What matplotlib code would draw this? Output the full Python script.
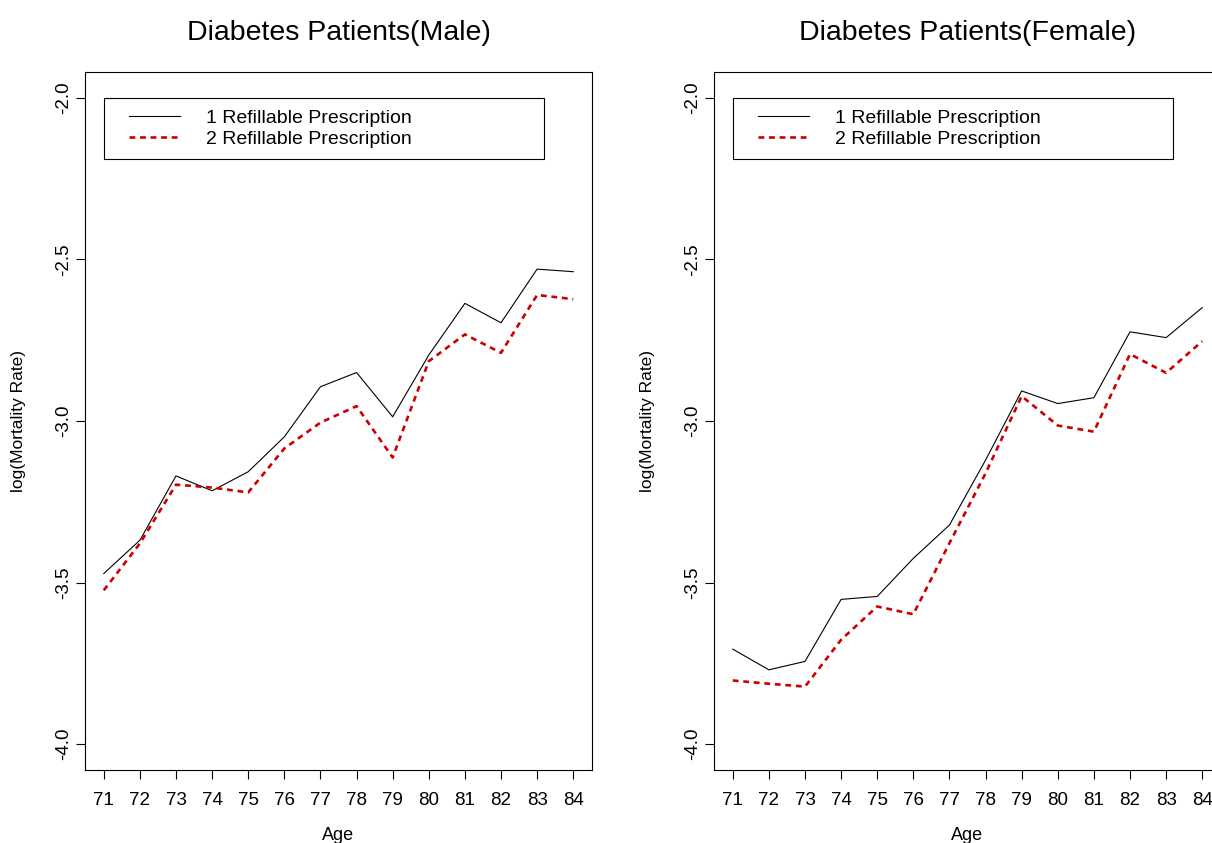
import matplotlib
matplotlib.use("Agg")
import matplotlib.pyplot as plt
from matplotlib.patches import Rectangle

plt.rcParams["font.family"] = ["Liberation Sans", "DejaVu Sans"]
plt.rcParams["axes.unicode_minus"] = False

# ages on the x axis
ages = [71, 72, 73, 74, 75, 76, 77, 78, 79, 80, 81, 82, 83, 84]

# log mortality rate, male patients
male_one = [-3.472, -3.369, -3.170, -3.216, -3.157, -3.049, -2.894,
            -2.850, -2.987, -2.796, -2.636, -2.696, -2.530, -2.538]
male_two = [-3.524, -3.379, -3.197, -3.206, -3.221, -3.085, -3.005,
            -2.954, -3.113, -2.815, -2.732, -2.789, -2.610, -2.623]

# log mortality rate, female patients
female_one = [-3.706, -3.770, -3.744, -3.552, -3.543, -3.425, -3.322,
              -3.121, -2.907, -2.946, -2.928, -2.724, -2.742, -2.649]
female_two = [-3.803, -3.813, -3.822, -3.677, -3.574, -3.598, -3.378,
              -3.162, -2.923, -3.014, -3.033, -2.793, -2.851, -2.753]

y_ticks = [-4.0, -3.5, -3.0, -2.5, -2.0]
series_labels = ["1 Refillable Prescription", "2 Refillable Prescription"]
titles = ["Diabetes Patients(Male)", "Diabetes Patients(Female)"]

# legend frame corners in data units (R style legend at x=71, y=-2)
LEG_X0, LEG_X1 = 71.0, 83.19
LEG_Y0, LEG_Y1 = -2.189, -2.0

RED = "#CD0000"

fig = plt.figure(figsize=(12.12, 8.43), dpi=100)
W, H = 1212.0, 843.0
ax_left = fig.add_axes([85 / W, 73 / H, 507 / W, 698 / H])
ax_right = fig.add_axes([714 / W, 73 / H, 507 / W, 698 / H])

panels = [
    (ax_left, male_one, male_two, titles[0]),
    (ax_right, female_one, female_two, titles[1]),
]

for ax, one, two, title in panels:
    ax.plot(ages, one, color="black", linewidth=0.8, label=series_labels[0])
    ax.plot(ages, two, color=RED, linewidth=1.9, linestyle=(0, (2.2, 1.8)),
            label=series_labels[1])

    ax.set_xlim(70.48, 84.52)
    ax.set_ylim(-4.08, -1.92)
    ax.set_xticks(ages)
    ax.set_xticklabels([str(a) for a in ages])
    ax.set_yticks(y_ticks)
    ax.set_yticklabels([f"{v:.1f}" for v in y_ticks])

    for sp in ax.spines.values():
        sp.set_linewidth(0.8)
    ax.tick_params(direction="out", length=6.5, width=0.8, labelsize=13.5)
    ax.tick_params(axis="x", pad=9)
    ax.tick_params(axis="y", pad=3, labelrotation=90)
    for lab in ax.get_yticklabels():
        lab.set_va("center")

    ax.set_title(title, fontsize=20.5, pad=23)
    ax.set_xlabel("Age", fontsize=13, labelpad=13)
    ax.set_ylabel("log(Mortality Rate)", fontsize=12.5, labelpad=21)

    # legend frame plus entries
    ax.add_patch(Rectangle((LEG_X0, LEG_Y0), LEG_X1 - LEG_X0, LEG_Y1 - LEG_Y0,
                           fill=False, edgecolor="black", linewidth=0.8, zorder=3))
    ax.legend(loc="center left", bbox_to_anchor=(71.69, (LEG_Y0 + LEG_Y1) / 2),
              bbox_transform=ax.transData, frameon=False, fontsize=14,
              borderpad=0, borderaxespad=0, handlelength=2.62,
              handletextpad=1.34, labelspacing=0.17)

fig.savefig("out.png", dpi=100)
